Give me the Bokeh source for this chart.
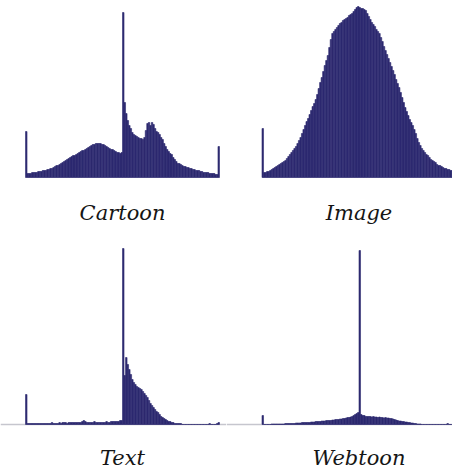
from bokeh.plotting import figure
from bokeh.layouts import column, row
from bokeh.models import Range1d, Label, Span
from bokeh.embed import file_html
from bokeh.resources import INLINE

# 128 histogram bins (each covers two grey levels of 0..255); values are relative counts
cartoon = [46,
           4, 4, 4, 5, 5, 5, 5, 6, 6, 6,
           7, 7, 7, 8, 8, 9, 9, 10, 11, 12,
           12, 13, 14, 15, 16, 17, 18, 19, 20, 21,
           22, 22, 23, 24, 25, 26, 27, 27, 28, 29,
           30, 31, 32, 33, 33, 34, 34, 34, 34, 33,
           33, 32, 31, 30, 29, 28, 28, 27, 26, 25,
           25, 24, 25,
           165,
           75, 64, 57, 52, 49, 45,
           43, 42, 41, 40, 39, 39, 38, 40, 47, 54,
           55, 52, 55, 53, 49, 46, 45, 43, 40, 38,
           34, 31, 28, 26, 24, 23, 20, 18, 16, 14,
           14, 13, 12, 11, 11, 10, 10, 9, 9, 8,
           8, 7, 7, 7, 6, 6, 5, 5, 5, 5,
           4, 4, 4, 4, 3, 3, 31]

image = [49,
         5, 5, 6, 6, 7, 8, 9, 10, 11, 12,
         13, 14, 15, 16, 17, 19, 21, 23, 25, 27,
         29, 31, 34, 37, 40, 44, 48, 52, 56, 59,
         63, 67, 71, 74, 78, 83, 89, 95, 100, 106,
         112, 117, 122, 130, 138, 144, 146, 148, 150, 152,
         154, 155, 157, 158, 159, 160, 162, 163, 164, 166,
         168, 170, 171,
         170,
         169, 169, 168, 167, 164, 161,
         158, 155, 153, 151, 148, 146, 144, 140, 136, 131,
         127, 123, 119, 115, 111, 107, 103, 98, 94, 90,
         85, 80, 75, 70, 66, 62, 58, 55, 52, 48,
         44, 39, 35, 32, 29, 27, 25, 23, 22, 20,
         18, 17, 16, 15, 13, 12, 12, 11, 10, 9,
         9, 8, 8, 7, 7, 6, 59]

text = [30,
        1, 1, 1, 1, 1, 1, 1, 1, 1, 1,
        1, 1, 1, 1, 1, 1, 2, 1, 1, 1,
        1, 2, 1, 2, 2, 2, 1, 2, 2, 2,
        2, 2, 2, 2, 2, 2, 3, 4, 3, 2,
        2, 2, 2, 2, 3, 2, 2, 2, 2, 2,
        2, 2, 3, 2, 2, 3, 3, 3, 3, 3,
        3, 4, 4,
        176,
        49, 67, 60, 55, 50, 45,
        42, 40, 38, 37, 36, 35, 33, 31, 29, 27,
        24, 21, 19, 17, 15, 13, 12, 10, 8, 7,
        6, 5, 4, 3, 3, 2, 2, 1, 1, 1,
        1, 1, 0, 0, 0, 0, 0, 0, 0, 0,
        0, 0, 0, 0, 0, 0, 0, 0, 0, 0,
        1, 0, 0, 0, 0, 1, 2]

webtoon = [9,
           0, 0, 0, 0, 0, 0.5, 0.5, 0.5, 0.5, 0.5,
           0.5, 0.5, 0.5, 0.5, 1, 1, 1, 1, 1, 1,
           1, 1.5, 1.5, 1.5, 1.5, 2, 2, 2, 2, 2,
           2, 2.5, 2.5, 2.5, 3, 3, 3, 3, 3.5, 3.5,
           3.5, 4, 4, 4, 4, 4.5, 4.5, 5, 5, 5,
           5.5, 5.5, 6, 6, 6.5, 7, 7, 7.5, 8, 9,
           10, 11, 12,
           174,
           10, 9, 9, 8, 8, 8,
           8, 7.5, 8, 7.5, 7.5, 7, 7.5, 7, 7, 6.5,
           7, 6.5, 6.5, 6, 6, 5.5, 5, 4.5, 4, 3.5,
           3.5, 3, 3, 2.5, 2.5, 2, 2, 1.5, 1.5, 1,
           1, 0.5, 0.5, 0.5, 0, 0, 0, 0, 0, 0,
           0, 0, 0, 0, 0, 0, 0, 0, 0, 0,
           0, 1, 0, 0, 0, 0, 0]

labels = ["Cartoon", "Image", "Text", "Webtoon"]

BAR_COLOR = "#2d2a70"
PX_PER_BIN = 194 / 128


def panel(vals, label, w, h, left_px, baseline_px, label_dy, axis_line):
    x_start = -0.5 - left_px / PX_PER_BIN
    x_end = x_start + w / PX_PER_BIN
    p = figure(width=w, height=h,
               x_range=Range1d(x_start, x_end),
               y_range=Range1d(-(h - baseline_px), baseline_px),
               output_backend="svg", toolbar_location=None,
               min_border=0, x_axis_location=None, y_axis_location=None,
               outline_line_color=None, background_fill_color="white",
               border_fill_color="white")
    p.grid.grid_line_color = None
    if axis_line:
        p.add_layout(Span(location=0, dimension="width", line_color="#c6c6ce",
                          line_width=1.5, level="underlay"))
    p.vbar(x=list(range(len(vals))), top=vals, width=1.0, bottom=0,
           fill_color=BAR_COLOR, line_color=BAR_COLOR, line_width=0.6)
    p.add_layout(Label(x=(len(vals) - 1) / 2, y=-label_dy, text=label,
                       text_font="DejaVu Serif", text_font_style="italic",
                       text_font_size="21px", text_align="center",
                       text_baseline="alphabetic", text_color="#151515"))
    return p


p1 = panel(cartoon, labels[0], 226, 235, 25, 177, 35, False)
p2 = panel(image, labels[1], 226, 235, 35.5, 177, 35, False)
p3 = panel(text, labels[2], 226, 235, 25, 189, 33, True)
p4 = panel(webtoon, labels[3], 226, 235, 35.5, 189, 33, True)

layout = column(row(p1, p2, spacing=0), row(p3, p4, spacing=0), spacing=0)

open("out.html", "w").write(file_html(layout, INLINE))
